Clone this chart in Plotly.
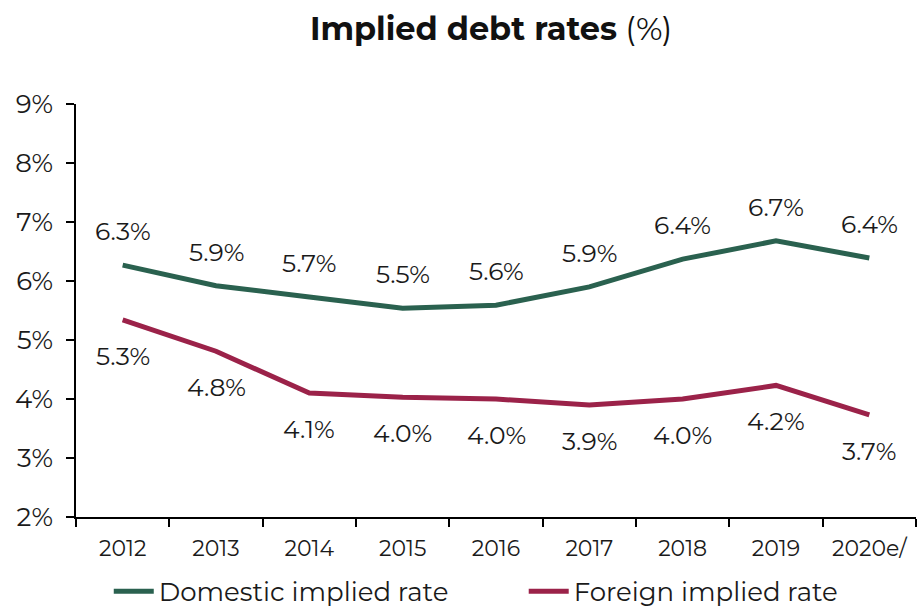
import plotly.graph_objects as go

years = ["2012", "2013", "2014", "2015", "2016", "2017", "2018", "2019", "2020e/"]
domestic = [6.27, 5.92, 5.73, 5.54, 5.59, 5.90, 6.37, 6.68, 6.39]
foreign = [5.34, 4.81, 4.10, 4.03, 4.00, 3.90, 4.00, 4.23, 3.73]
ytick_vals = [2, 3, 4, 5, 6, 7, 8, 9]
ytick_text = ["2%", "3%", "4%", "5%", "6%", "7%", "8%", "9%"]

GREEN = "#2A614F"
MAROON = "#9B2249"
FONT = "Montserrat, DejaVu Sans, sans-serif"
TXT = "#1a1a1a"

fig = go.Figure()
fig.add_trace(go.Scatter(x=years, y=domestic, mode="lines", name="Domestic implied rate",
                         line=dict(color=GREEN, width=5), hoverinfo="skip", legend="legend"))
fig.add_trace(go.Scatter(x=years, y=foreign, mode="lines", name="Foreign implied rate",
                         line=dict(color=MAROON, width=5), hoverinfo="skip", legend="legend2"))

for i, v in enumerate(domestic):
    fig.add_annotation(x=i, y=v, text=f"{v:.1f}%", showarrow=False, yshift=34,
                       font=dict(family=FONT, size=25, color=TXT))
for i, v in enumerate(foreign):
    fig.add_annotation(x=i, y=v, text=f"{v:.1f}%", showarrow=False, yshift=-36,
                       font=dict(family=FONT, size=25, color=TXT))

leg_common = dict(orientation="h", xanchor="left", y=-0.18, yanchor="middle",
                  font=dict(family=FONT, size=26, color=TXT), itemwidth=40,
                  bgcolor="rgba(0,0,0,0)")

fig.update_layout(
    width=918, height=607,
    margin=dict(l=76, r=2, t=104, b=90, autoexpand=False),
    paper_bgcolor="white", plot_bgcolor="white",
    font=dict(family=FONT, size=25, color=TXT),
    title=dict(text="<b>Implied debt rates</b> (%)", x=0.535, xanchor="center",
               y=0.953, yanchor="middle", font=dict(family=FONT, size=32, color="#111")),
    showlegend=True,
    legend=dict(x=0.039, **leg_common),
    legend2=dict(x=0.533, **leg_common),
)
fig.update_xaxes(type="category", range=[-0.5, 8.5], showline=True, linecolor="#000",
                 linewidth=1.5, ticks="outside", tickson="boundaries", ticklen=8,
                 tickcolor="#000", tickwidth=1.5, showgrid=False, zeroline=False,
                 tickangle=0, tickfont=dict(family=FONT, size=22), ticklabelstandoff=11)
fig.update_yaxes(range=[2, 9], tickvals=ytick_vals, ticktext=ytick_text, showline=True,
                 linecolor="#000", linewidth=1.5, ticks="outside", ticklen=8,
                 tickcolor="#000", tickwidth=1.5, showgrid=False, zeroline=False,
                 tickfont=dict(family=FONT, size=26), ticklabelstandoff=8)

fig.write_html("out.html")
